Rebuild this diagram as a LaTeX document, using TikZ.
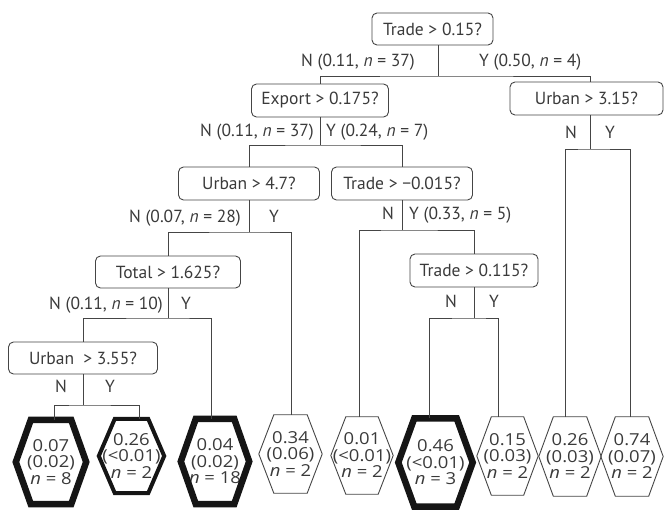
\documentclass[tikz,border=0pt]{standalone}
\usepackage{fontspec}
\setmainfont{PT Sans}
\newfontfamily\leaffont[FakeStretch=1.12]{Open Sans}
\usetikzlibrary{calc}
\definecolor{ink}{HTML}{3A3A3A}
\definecolor{edgec}{HTML}{454545}
\definecolor{thickc}{HTML}{151515}
\tikzset{
  qbox/.style={draw=edgec, line width=0.9pt, rounded corners=5pt, minimum height=33pt,
    inner sep=0pt, text=ink, font=\fontsize{17.5}{20}\selectfont},
  conn/.style={draw=edgec, line width=0.9pt},
  lbl/.style={text=ink, font=\fontsize{17.5}{20}\selectfont, inner sep=0pt},
  leaf/.style={inner sep=0pt, text=ink, align=center, font=\leaffont\fontsize{16.5}{16.5}\selectfont},
  hexthin/.style={draw=edgec, line width=0.9pt, line join=miter},
  hexmid/.style={draw=thickc, line width=4pt, line join=miter},
  hexthick/.style={draw=thickc, line width=6.5pt, line join=miter},
}
\newcommand{\hexleaf}[8]{%
  \node[leaf, minimum width=#4pt, minimum height=#5pt] (#1) at (#2,#3) {#8};
  \draw[#7] (#1.west) -- ([xshift=#6pt]#1.north west) -- ([xshift=-#6pt]#1.north east)
    -- (#1.east) -- ([xshift=-#6pt]#1.south east) -- ([xshift=#6pt]#1.south west) -- cycle;}
\begin{document}
\begin{tikzpicture}[x=1pt, y=-1pt]
\useasboundingbox (0,0) rectangle (664,510);

% decision boxes
\node[qbox, minimum width=121pt, minimum height=32pt] (root) at (432.5,29) {Trade > 0.15?};
\node[qbox, minimum width=137pt] (exp) at (320,100.5) {Export > 0.175?};
\node[qbox, minimum width=153pt] (u315) at (586.5,98.5) {Urban > 3.15?};
\node[qbox, minimum width=141pt] (u47) at (249,183.5) {Urban > 4.7?};
\node[qbox, minimum width=141pt] (t015) at (402,183.5) {Trade > −0.015?};
\node[qbox, minimum width=128pt] (t0115) at (474,270.5) {Trade > 0.115?};
\node[qbox, minimum width=145pt, minimum height=32pt] (total) at (168,272) {Total > 1.625?};
\node[qbox, minimum width=149pt, minimum height=32pt] (u355) at (83,358) {Urban\ \ > 3.55?};

% leaves
\hexleaf{l1}{51}{462}{70}{84}{15}{hexthick}{0.07\\(0.02)\\\textit{n} = 8}
\hexleaf{l2}{131.5}{456}{65}{74}{16}{hexmid}{0.26\\(<0.01)\\\textit{n} = 2}
\hexleaf{l3}{215}{461.5}{68}{85}{15}{hexthick}{0.04\\(0.02)\\\textit{n} = 18}
\hexleaf{l4}{290.5}{454}{63}{78}{15}{hexthin}{0.34\\(0.06)\\\textit{n} = 2}
\hexleaf{l5}{362}{455.5}{62}{77}{15}{hexthin}{0.01\\(<0.01)\\\textit{n} = 2}
\hexleaf{l6}{435.5}{462.5}{74}{88}{16}{hexthick}{0.46\\(<0.01)\\\textit{n} = 3}
\hexleaf{l7}{507.5}{456}{61}{78}{14.5}{hexthin}{0.15\\(0.03)\\\textit{n} = 2}
\hexleaf{l8}{570}{456.5}{62}{79}{14.5}{hexthin}{0.26\\(0.03)\\\textit{n} = 2}
\hexleaf{l9}{632}{456.5}{62}{79}{14.5}{hexthin}{0.74\\(0.07)\\\textit{n} = 2}

% junctions
\coordinate (jA) at (438,76);
\coordinate (jB) at (320,145);
\coordinate (jC) at (590,149);
\coordinate (jD) at (249,232);
\coordinate (jE) at (402,230);
\coordinate (jF) at (474,318);
\coordinate (jG) at (168,318);
\coordinate (jH) at (83,405);

% connectors
\draw[conn] (root.south -| jA) -- (jA);
\draw[conn] (exp.north) |- (jA) -| ([xshift=3.5pt]u315.north);
\draw[conn] (exp.south) -- (jB);
\draw[conn] (u47.north) |- (jB) -| (t015.north);
\draw[conn] (u315.south -| jC) -- (jC);
\draw[conn] ([xshift=-5pt]l8.north) |- (jC) -| ([xshift=-2pt]l9.north);
\draw[conn] (u47.south) -- (jD);
\draw[conn] (total.north) |- (jD) -| ([xshift=0.5pt]l4.north);
\draw[conn] (t015.south) -- (jE);
\draw[conn] ([xshift=-3pt]l5.north) |- (jE) -| (t0115.north);
\draw[conn] (t0115.south) -- (jF);
\draw[conn] ([xshift=-6.5pt]l6.north) |- (jF) -| ([xshift=-9.5pt]l7.north);
\draw[conn] (total.south) -- (jG);
\draw[conn] (u355.north) |- (jG) -| ([xshift=-4pt]l3.north);
\draw[conn] (u355.south) -- (jH);
\draw[conn] ([xshift=3pt]l1.north) |- (jH) -| ([xshift=7.5pt]l2.north);

% branch labels
\node[lbl, anchor=base east] (nA) at (415,67) {N (0.11, \textit{n} = 37)};
\node[lbl, anchor=base west] (yA) at (479,67) {Y (0.50, \textit{n} = 4)};
\node[lbl, anchor=base east] (nB) at (314,137) {N (0.11, \textit{n} = 37)};
\node[lbl, anchor=base west] (yB) at (326,137) {Y (0.24, \textit{n} = 7)};
\node[lbl, anchor=base east] (nC) at (577,139) {N};
\node[lbl, anchor=base west] (yC) at (605,139) {Y};
\node[lbl, anchor=base east] (nD) at (241,223) {N (0.07, \textit{n} = 28)};
\node[lbl, anchor=base west] (yD) at (269,223) {Y};
\node[lbl, anchor=base east] (nE) at (394,220) {N};
\node[lbl, anchor=base west] (yE) at (409,220) {Y (0.33, \textit{n} = 5)};
\node[lbl, anchor=base east] (nF) at (457,308) {N};
\node[lbl, anchor=base west] (yF) at (489,308) {Y};
\node[lbl, anchor=base east] (nG) at (163,310) {N (0.11, \textit{n} = 10)};
\node[lbl, anchor=base west] (yG) at (181,310) {Y};
\node[lbl, anchor=base east] (nH) at (67,392) {N};
\node[lbl, anchor=base west] (yH) at (105,392) {Y};
\end{tikzpicture}
\end{document}
